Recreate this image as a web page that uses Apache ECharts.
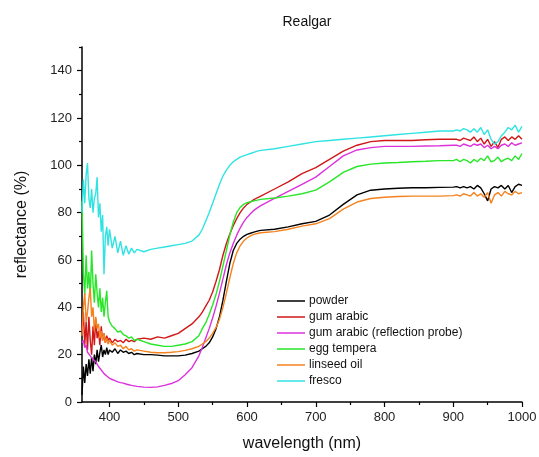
<!DOCTYPE html>
<html>
<head>
<meta charset="utf-8">
<script src="https://cdn.jsdelivr.net/npm/echarts@6/dist/echarts.min.js"></script>
<style>
  html, body { margin: 0; padding: 0; background: #fff; }
  #chart { width: 539px; height: 457px; }
</style>
</head>
<body>
<div id="chart"></div>
<script>
// Wavelength grid (nm) shared by all spectra
const wavelength = [
  360,362,364,366,368,370,372,374,376,378,380,382,384,386,388,390,392,394,396,398,400,
  404,408,412,416,420,424,428,432,436,440,
  450,460,470,480,490,500,510,520,530,
  535,540,545,550,555,560,565,570,575,580,585,590,595,600,605,610,615,620,
  640,660,680,700,720,740,760,780,800,820,840,860,880,900,
  905,910,915,920,925,930,935,940,945,950,955,960,965,970,975,980,985,990,995,1000
];

// Reflectance (%) per sample
const powder = [
  3,15,8,16,11,18,12,19,13,20,16,22,17,21,24,19,22,20,23,20,22,
  21,22.5,20.5,22,21,21.5,20.5,21,20,20.5,
  20,20,19.8,19.5,19.5,19.5,19.8,20.5,21.5,
  22.5,23.5,25,27.5,31,36,43,51,58.5,64,67,68.8,70,70.8,71.3,71.8,72.2,72.5,
  73,74,75.3,76.3,79,83.5,87.5,89.5,90,90.3,90.5,90.5,90.7,90.8,
  91,90.5,91,90.5,91,90,91.5,90.5,88,85,90,91,90.5,91.5,90,91.5,88.5,91,92,91.5
];
const gumArabic = [
  30,38,24,34,22,36,26,20,32,24,35,27,30,24,32,26,29,25,28,26,27,
  25,26.5,25.5,26,25,26.5,25.5,26,25.5,26.5,
  27,26.5,27.5,27,28,29,31,33,36,
  38,40.5,43,46.5,51,56,62,67,71,74.5,77.5,80,82,83.5,84.5,85.5,86.3,87,
  90,93,96.5,99,102.5,106,108.5,110,110.5,110.5,110.5,110.8,111,111,
  111,110.5,111.5,111,110.5,112,110,111.5,109,111,108,110,107.5,111,112,110.5,112,111,112.5,111
];
const gumArabicProbe = [
  25,26,23,24,21,20.5,19.5,19,18,17.5,17,16,15,14.5,13.5,13,12,11.5,11,10.5,10,
  9.5,9,8.5,8.2,8,7.6,7.3,7,6.8,6.6,
  6.3,6.2,6.4,7,7.8,9,11.5,14.5,19.5,
  23,27,31,35.5,40.5,46,52,58,63,67,70.5,73.5,76,78,79.5,81,82,83,
  86,89,92,95,99.5,104,106.5,107.5,108,108,108,108.2,108.3,108.5,
  108.5,108,109,108.5,108,109,108.5,109,107.5,108.5,107,108,107,108.5,109,108,109.5,108.5,109,109.5
];
const eggTempera = [
  85,55,45,62,48,55,44,64,50,42,54,46,40,48,38,44,36,42,47,36,34,
  32,31,29.5,30,28.5,28,27,27.5,26,26.5,
  25.5,24.5,24,23.5,23.5,24,24.5,25.5,28,
  31,33.5,37,41,45.5,51,57.5,64,70.5,76,80,82.2,83.5,84.2,84.6,85,85.3,85.6,
  86.2,87,88,89.5,93,97,99.5,100.5,101,101.2,101.5,101.7,102,102,
  102.5,101.5,102.5,102,101,102.5,101.5,103,102,104,101.5,102,103.5,101.5,102.5,103,102,104,102.5,105
];
const linseedOil = [
  28,40,46,34,38,44,48,36,40,30,36,31,33,27,30,26,29,25,27,24.5,26,
  24,25,23.5,24,22.5,23.5,22,22.5,21.5,22,
  21.5,21,20.8,20.8,21,21.3,21.8,22.5,23.5,
  24.5,25.5,27,29,31.5,35,40,46,52.5,58.5,63,66,68,69.3,70.2,70.8,71.2,71.5,
  72,73,74.3,75.3,77.5,81.5,84.5,86,86.5,86.8,87,87,87,87.2,
  87.5,87,88,87.5,87,88.5,87,88,86.5,88.5,84,87.5,88.5,87,89,88,87.5,89,88,88.5
];
const fresco = [
  80,94,84,96,101,86,82,90,80,86,88,95,78,84,72,79,54,70,74,66,73,
  65,70,63,68,62,66,62.5,65,63,64.5,
  63.5,64.5,65,65.5,66,66.5,67,68,70.5,
  73,76.5,80,84,88,92,95.5,98,100,101.5,102.5,103.5,104,104.5,105,105.5,106,106.3,
  107,108,109,110,110.5,111,111.5,112,112.5,113,113.5,114,114.5,114.5,
  115,114.5,115.5,115,114,115.5,114,116,113,115,111,109,110,112.5,114,116,115,117,114,116.5
];

const seriesNames = ['powder', 'gum arabic', 'gum arabic (reflection probe)', 'egg tempera', 'linseed oil', 'fresco'];
const seriesValues = [powder, gumArabic, gumArabicProbe, eggTempera, linseedOil, fresco];
const seriesColors = ['#000000', '#d01818', '#dc32dc', '#28e628', '#f5821e', '#30e3e3'];

// Axis ticks
const xMajorTicks = [400, 500, 600, 700, 800, 900, 1000];
const xMinorTicks = [450, 550, 650, 750, 850, 950];
const yMajorTicks = [0, 20, 40, 60, 80, 100, 120, 140];
const yMinorTicks = [10, 30, 50, 70, 90, 110, 130, 150];

const X_MIN = 360, X_MAX = 1000, Y_MIN = 0, Y_MAX = 150;
const FONT = 'Liberation Sans, Arial, sans-serif';

const chart = echarts.init(document.getElementById('chart'), null, { renderer: 'canvas' });

const axisLine = { show: true, onZero: false, lineStyle: { color: '#000', width: 1.5 } };

const option = {
  animation: false,
  backgroundColor: '#fff',
  title: {
    text: 'Realgar',
    left: 302,
    top: 10,
    textAlign: 'center',
    textStyle: { fontFamily: FONT, fontSize: 14, fontWeight: 'normal', color: '#111' }
  },
  legend: {
    orient: 'vertical',
    left: 272,
    top: 289,
    icon: 'rect',
    itemWidth: 28,
    itemHeight: 1.5,
    itemGap: 2,
    textStyle: { fontFamily: FONT, fontSize: 12, color: '#111', lineHeight: 14, padding: [0, 0, 0, -1] },
    data: seriesNames
  },
  grid: { left: 82, right: 17, top: 47, bottom: 55, outerBoundsMode: 'none' },
  xAxis: [
    {
      type: 'value', min: X_MIN, max: X_MAX,
      name: 'wavelength (nm)', nameLocation: 'middle', nameGap: 34,
      nameTextStyle: { fontFamily: FONT, fontSize: 16, color: '#111' },
      axisLine: axisLine,
      axisTick: { show: true, length: 5, customValues: xMajorTicks, lineStyle: { color: '#000', width: 1.2 } },
      axisLabel: { customValues: xMajorTicks, formatter: v => String(v), margin: 9, fontFamily: FONT, fontSize: 13, color: '#222' },
      splitLine: { show: false }
    },
    {
      type: 'value', min: X_MIN, max: X_MAX, position: 'bottom',
      axisLine: { show: false },
      axisTick: { show: true, length: 3, customValues: xMinorTicks, lineStyle: { color: '#000', width: 1.2 } },
      axisLabel: { show: false },
      splitLine: { show: false }
    }
  ],
  yAxis: [
    {
      type: 'value', min: Y_MIN, max: Y_MAX,
      name: 'reflectance (%)', nameLocation: 'middle', nameGap: 52,
      nameTextStyle: { fontFamily: FONT, fontSize: 16, color: '#111' },
      axisLine: axisLine,
      axisTick: { show: true, length: 5, customValues: yMajorTicks, lineStyle: { color: '#000', width: 1.2 } },
      axisLabel: { customValues: yMajorTicks, formatter: v => String(v), margin: 10, fontFamily: FONT, fontSize: 13, color: '#222' },
      splitLine: { show: false }
    },
    {
      type: 'value', min: Y_MIN, max: Y_MAX, position: 'left',
      axisLine: { show: false },
      axisTick: { show: true, length: 3, customValues: yMinorTicks, lineStyle: { color: '#000', width: 1.2 } },
      axisLabel: { show: false },
      splitLine: { show: false }
    }
  ],
  series: seriesNames.map((name, i) => ({
    name: name,
    type: 'line',
    xAxisIndex: 0,
    yAxisIndex: 0,
    showSymbol: false,
    symbol: 'none',
    clip: true,
    lineStyle: { color: seriesColors[i], width: 1.4 },
    itemStyle: { color: seriesColors[i] },
    data: wavelength.map((w, k) => [w, seriesValues[i][k]])
  }))
};

chart.setOption(option);
</script>
</body>
</html>
